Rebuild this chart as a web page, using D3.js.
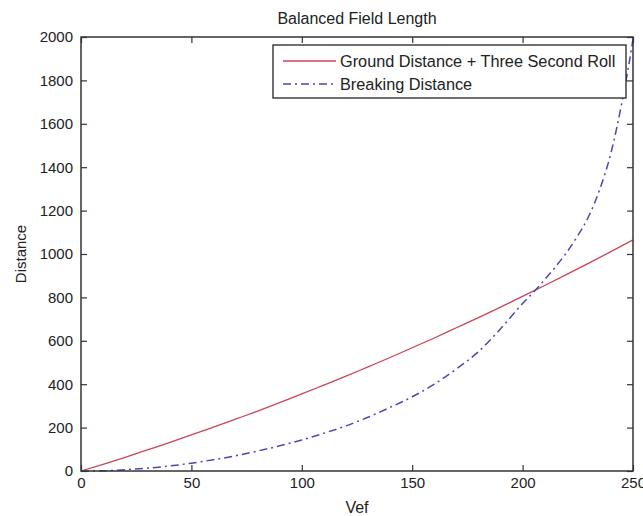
<!DOCTYPE html>
<html lang="en">
<head>
<meta charset="UTF-8">
<title>Balanced Field Length</title>
<script src="https://d3js.org/d3.v7.min.js"></script>
<style>
  body { margin: 0; background: #fff; }
  svg text { font-family: "Liberation Sans", Arial, sans-serif; fill: #222; }
</style>
</head>
<body>
<script>
// values
var groundVef = [0, 10, 20, 30, 40, 50, 60, 70, 80, 90, 100, 110, 120, 130, 140, 150, 160, 170, 180, 190, 200, 210, 220, 230, 240, 250];
var groundDist = [0, 31, 63, 97, 131, 166, 202, 239, 276, 315, 355, 396, 437, 480, 523, 568, 613, 660, 707, 755, 805, 855, 906, 958, 1011, 1065];

var brakeVef = [0, 10, 20, 30, 40, 50, 60, 70, 80, 90, 100, 110, 120, 130, 140, 150, 160, 170, 180, 190, 200, 205, 210, 215, 220, 225, 230, 235, 240, 245, 248, 250];
var brakeDist = [0, 1, 6, 13, 23, 36, 52, 70, 92, 116, 143, 174, 208, 248, 293, 342, 400, 470, 550, 655, 772, 825, 882, 942, 1008, 1085, 1175, 1300, 1465, 1700, 1865, 1990];

var xTicks = [0, 50, 100, 150, 200, 250];
var yTicks = [0, 200, 400, 600, 800, 1000, 1200, 1400, 1600, 1800, 2000];
var legendNames = ["Ground Distance + Three Second Roll", "Breaking Distance"];

var width = 643, height = 516;
var plotL = 81, plotR = 633, plotT = 37, plotB = 471;

var svg = d3.select("body").append("svg")
    .attr("width", width)
    .attr("height", height);

var x = d3.scaleLinear().domain([0, 250]).range([plotL, plotR]);
var y = d3.scaleLinear().domain([0, 2000]).range([plotB, plotT]);

function styleAxis(g) {
  g.select(".domain").remove();
  g.selectAll(".tick line").attr("stroke", "#333").attr("stroke-width", 1.2);
  g.selectAll(".tick text").style("font-size", "15px").attr("fill", "#222");
}

// bottom / left axes with labels, ticks pointing inward
svg.append("g")
    .attr("transform", "translate(0," + plotB + ")")
    .call(d3.axisBottom(x).tickValues(xTicks).tickSize(-6).tickPadding(6).tickFormat(d3.format("d")))
    .call(styleAxis);

svg.append("g")
    .attr("transform", "translate(" + plotL + ",0)")
    .call(d3.axisLeft(y).tickValues(yTicks).tickSize(-6).tickPadding(8).tickFormat(d3.format("d")))
    .call(styleAxis);

// top / right ticks only
svg.append("g")
    .attr("transform", "translate(0," + plotT + ")")
    .call(d3.axisTop(x).tickValues(xTicks).tickSize(-6).tickFormat(""))
    .call(styleAxis);

svg.append("g")
    .attr("transform", "translate(" + plotR + ",0)")
    .call(d3.axisRight(y).tickValues(yTicks).tickSize(-6).tickFormat(""))
    .call(styleAxis);

// the lines
var groundData = groundVef.map(function(v, i) { return {x: v, y: groundDist[i]}; });
var brakeData = brakeVef.map(function(v, i) { return {x: v, y: brakeDist[i]}; });

var line = d3.line()
    .x(function(d) { return x(d.x); })
    .y(function(d) { return y(d.y); })
    .curve(d3.curveMonotoneX);

svg.append("path")
    .attr("d", line(groundData))
    .attr("fill", "none")
    .attr("stroke", "#cc4455")
    .attr("stroke-width", 1.3);

svg.append("path")
    .attr("d", line(brakeData))
    .attr("fill", "none")
    .attr("stroke", "#4848b0")
    .attr("stroke-width", 1.5)
    .attr("stroke-dasharray", "8,4,2,4");

// frame
svg.append("rect")
    .attr("x", plotL).attr("y", plotT)
    .attr("width", plotR - plotL).attr("height", plotB - plotT)
    .attr("fill", "none")
    .attr("stroke", "#333")
    .attr("stroke-width", 1.5);

// legend
var lg = svg.append("g");
lg.append("rect")
    .attr("x", 273).attr("y", 45)
    .attr("width", 353).attr("height", 53)
    .attr("fill", "#fff")
    .attr("stroke", "#222")
    .attr("stroke-width", 1.3);

var legendColors = ["#cc4455", "#4848b0"];
var legendDash = [null, "8,4,2,4"];
legendNames.forEach(function(name, i) {
  var ly = 61 + i * 23;
  lg.append("line")
      .attr("x1", 283).attr("x2", 336)
      .attr("y1", ly).attr("y2", ly)
      .attr("stroke", legendColors[i])
      .attr("stroke-width", 1.5)
      .attr("stroke-dasharray", legendDash[i]);
  lg.append("text")
      .attr("x", 340).attr("y", ly)
      .attr("dy", "0.35em")
      .style("font-size", "16.3px")
      .text(name);
});

// title and axis labels
svg.append("text")
    .attr("x", (plotL + plotR) / 2).attr("y", 18)
    .attr("text-anchor", "middle")
    .attr("dy", "0.35em")
    .style("font-size", "16px")
    .text("Balanced Field Length");

svg.append("text")
    .attr("x", (plotL + plotR) / 2).attr("y", 507)
    .attr("text-anchor", "middle")
    .attr("dy", "0.35em")
    .style("font-size", "16px")
    .text("Vef");

svg.append("text")
    .attr("transform", "translate(21," + ((plotT + plotB) / 2) + ") rotate(-90)")
    .attr("text-anchor", "middle")
    .attr("dy", "0.35em")
    .style("font-size", "15px")
    .text("Distance");
</script>
</body>
</html>
